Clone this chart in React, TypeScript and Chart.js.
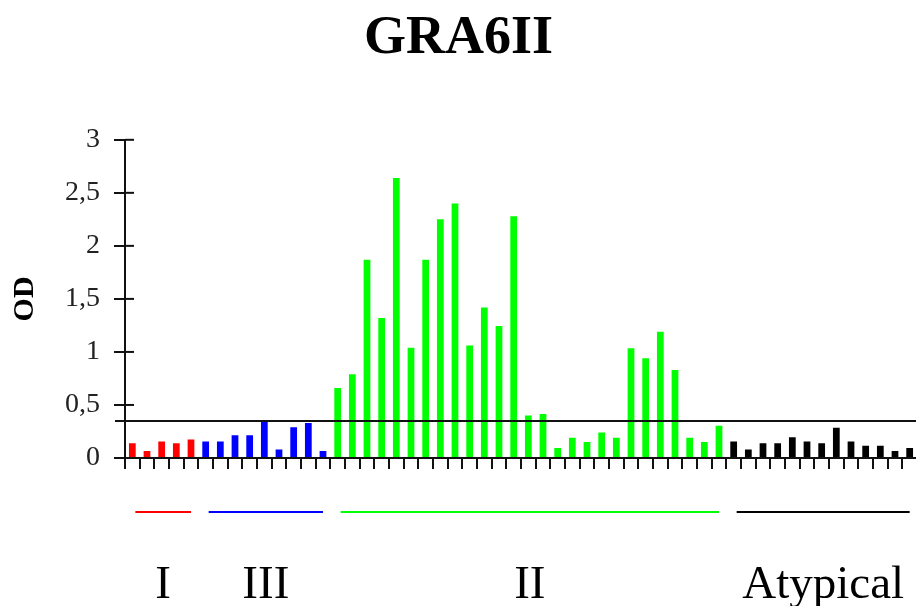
import React, { useEffect, useRef } from "react";
import { Chart, registerables } from "chart.js";

Chart.register(...registerables);

const TITLE = "GRA6II";
const Y_TITLE = "OD";
const THRESHOLD = 0.35;
const Y_TICKS_MAX = 3;
const Y_STEP = 0.5;

const GROUP_NAMES = ["I", "III", "II", "Atypical"];
const GROUP_COLORS = ["#ff0000", "#0000ff", "#00ff00", "#000000"];

const groupI = [0.14, 0.065, 0.155, 0.14, 0.175];
const groupIII = [0.155, 0.155, 0.215, 0.215, 0.355, 0.08, 0.29, 0.33, 0.065];
const groupII = [
  0.66, 0.79, 1.87, 1.32, 2.64, 1.04, 1.87, 2.25, 2.4, 1.06, 1.42, 1.245, 2.28,
  0.4, 0.415, 0.095, 0.19, 0.15, 0.24, 0.19, 1.035, 0.94, 1.19, 0.83, 0.19, 0.15, 0.305,
];
const groupAtypical = [0.155, 0.08, 0.14, 0.14, 0.195, 0.155, 0.14, 0.285, 0.155, 0.115, 0.115, 0.065, 0.095];

const GROUP_VALUES = [groupI, groupIII, groupII, groupAtypical];

const values: number[] = GROUP_VALUES.flat();
const colors: string[] = GROUP_VALUES.flatMap((g, i) => g.map(() => GROUP_COLORS[i]));
const labels: string[] = values.map((_, i) => "S" + (i + 1));

const AXIS_COLOR = "#111111";
const FONT = "'Liberation Serif', 'Times New Roman', serif";

const decorPlugin = {
  id: "decor",
  afterDatasetsDraw(chart: any) {
    const { ctx, chartArea, scales } = chart;
    const x = scales.x;
    const y = scales.y;
    ctx.save();
    ctx.strokeStyle = AXIS_COLOR;
    ctx.lineWidth = 2;
    // threshold (cut-off) line
    const ty = y.getPixelForValue(THRESHOLD);
    ctx.beginPath();
    ctx.moveTo(chartArea.left - 10, ty);
    ctx.lineTo(chartArea.right, ty);
    ctx.stroke();
    // tick stubs crossing the y axis
    y.ticks.forEach((t: any) => {
      const py = y.getPixelForValue(t.value);
      ctx.beginPath();
      ctx.moveTo(chartArea.left, py);
      ctx.lineTo(chartArea.left + 9, py);
      ctx.stroke();
    });
    // group lines and labels
    let start = 0;
    GROUP_VALUES.forEach((g, i) => {
      const x1 = x.getPixelForValue(start) + 3;
      const x2 = x.getPixelForValue(start + g.length - 1);
      const ly = chartArea.bottom + 54;
      ctx.strokeStyle = GROUP_COLORS[i];
      ctx.lineWidth = 2;
      ctx.beginPath();
      ctx.moveTo(x1, ly);
      ctx.lineTo(x2, ly);
      ctx.stroke();
      ctx.fillStyle = "#000";
      ctx.font = "47px " + FONT;
      ctx.textAlign = "center";
      ctx.textBaseline = "alphabetic";
      ctx.fillText(GROUP_NAMES[i], (x1 + x2) / 2, chartArea.bottom + 140);
      start += g.length;
    });
    ctx.restore();
  },
};

export default function App() {
  const ref = useRef<HTMLCanvasElement | null>(null);
  useEffect(() => {
    if (!ref.current) return;
    const chart = new Chart(ref.current, {
      type: "bar",
      data: {
        labels,
        datasets: [
          {
            data: values,
            backgroundColor: colors,
            borderWidth: 0,
            barPercentage: 0.46,
            categoryPercentage: 1,
          },
        ],
      },
      options: {
        responsive: false,
        animation: false,
        devicePixelRatio: 1,
        layout: { padding: { left: 0, right: 13, top: 0, bottom: 137 } },
        plugins: {
          legend: { display: false },
          tooltip: { enabled: false },
          title: {
            display: true,
            text: TITLE,
            color: "#000",
            font: { family: FONT, size: 54, weight: "bold", lineHeight: 1.2 },
            padding: { top: 7, bottom: 68 },
          },
        },
        scales: {
          x: {
            offset: true,
            ticks: { display: false },
            grid: {
              offset: true,
              drawOnChartArea: false,
              drawTicks: true,
              tickLength: 11,
              color: AXIS_COLOR,
              lineWidth: 2,
            },
            border: { display: true, color: AXIS_COLOR, width: 2 },
          },
          y: {
            min: 0,
            max: Y_TICKS_MAX,
            afterFit: (scale: any) => {
              scale.width = 125;
            },
            ticks: {
              stepSize: Y_STEP,
              color: "#222",
              padding: 14,
              font: { family: FONT, size: 28 },
              callback: (v: any) => String(v).replace(".", ","),
            },
            grid: {
              drawOnChartArea: false,
              drawTicks: true,
              tickLength: 11,
              color: AXIS_COLOR,
              lineWidth: 2,
            },
            border: { display: true, color: AXIS_COLOR, width: 2 },
            title: {
              display: true,
              text: Y_TITLE,
              color: "#000",
              font: { family: FONT, size: 30, weight: "bold", lineHeight: 1.2 },
              padding: { top: 7, bottom: 0 },
            },
          },
        },
      },
      plugins: [decorPlugin],
    });
    return () => chart.destroy();
  }, []);
  return (
    <div
      style={{
        position: "fixed",
        left: 0,
        top: 0,
        width: 916,
        height: 606,
        overflow: "hidden",
        background: "#fff",
      }}
    >
      <canvas ref={ref} width={930} height={606} style={{ display: "block", width: 930, height: 606 }} />
    </div>
  );
}
